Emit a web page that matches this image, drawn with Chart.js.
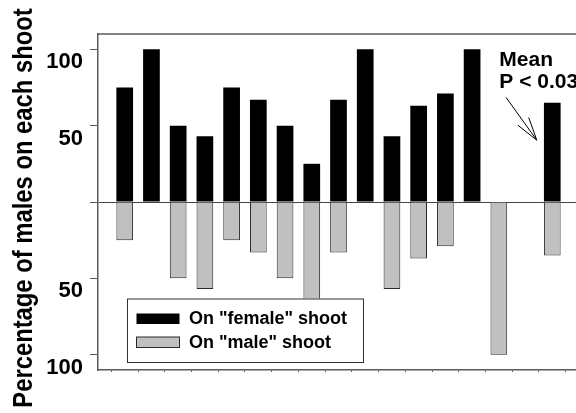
<!DOCTYPE html>
<html>
<head>
<meta charset="utf-8">
<script src="https://cdn.jsdelivr.net/npm/chart.js@4.4.1/dist/chart.umd.min.js"></script>
<style>
  html, body { margin: 0; padding: 0; background: #fff; overflow: hidden; }
  #wrap { width: 590px; height: 413px; }
</style>
</head>
<body>
<div id="wrap"><canvas id="shootChart" width="590" height="413"></canvas></div>
<script>
// shoots 1-15, a gap, then the mean; empty slots at both ends frame the axis
const categories = ['', '1', '2', '3', '4', '5', '6', '7', '8', '9', '10', '11', '12', '13', '14', '15', '', 'Mean', ''];
const femaleShoot = [null, 75, 100, 50, 43, 75, 67, 50, 25, 67, 100, 43, 63, 71, 100, null, null, 65, null];
const maleShoot = [null, 25, null, 50, 57, 25, 33, 50, 75, 33, null, 57, 37, 29, null, 100, null, 35, null];
const yTickValues = [-100, -50, 0, 50, 100];

const FONT = '"Liberation Sans", Arial, sans-serif';

// frame top, legend box, axis title and the "Mean" note
const extras = {
  id: 'extras',
  afterDatasetsDraw(chart) {
    const { ctx, chartArea, scales } = chart;
    const x = scales.x, y = scales.y;
    ctx.save();

    // top frame line
    ctx.strokeStyle = '#5a5a5a';
    ctx.lineWidth = 1.5;
    ctx.beginPath();
    ctx.moveTo(chartArea.left, chartArea.top);
    ctx.lineTo(chartArea.right, chartArea.top);
    ctx.stroke();

    // legend
    const lx = 127, ly = 298.5, lw = 236, lh = 63.5;
    ctx.fillStyle = '#fff';
    ctx.fillRect(lx, ly, lw, lh);
    ctx.strokeStyle = '#333';
    ctx.lineWidth = 1;
    ctx.strokeRect(lx + 0.5, ly + 0.5, lw, lh);
    ctx.font = 'bold 18px ' + FONT;
    ctx.textBaseline = 'middle';
    chart.data.datasets.forEach((ds, i) => {
      const sy = 313.5 + i * 23.5;
      ctx.fillStyle = ds.backgroundColor;
      ctx.fillRect(136.5, sy, 43, 10.5);
      if (ds.borderWidth) {
        ctx.strokeStyle = ds.borderColor;
        ctx.lineWidth = 1;
        ctx.strokeRect(136.5, sy, 43, 10.5);
      }
      ctx.fillStyle = '#000';
      ctx.fillText(ds.label, 189, sy + 6);
    });

    // "Mean P < 0.03" note with arrow
    ctx.fillStyle = '#000';
    ctx.font = 'bold 21px ' + FONT;
    ctx.textBaseline = 'alphabetic';
    ctx.textAlign = 'left';
    const tx = x.getPixelForValue(15) + 0.5;
    ctx.fillText('Mean', tx, y.getPixelForValue(89));
    ctx.fillText('P < 0.03', tx, y.getPixelForValue(74.5));

    const ax0 = x.getPixelForValue(15.27), ay0 = y.getPixelForValue(68.5);
    const ax1 = x.getPixelForValue(16.42), ay1 = y.getPixelForValue(40.5);
    const ang = Math.atan2(ay1 - ay0, ax1 - ax0);
    ctx.strokeStyle = '#000';
    ctx.lineWidth = 1;
    ctx.beginPath();
    ctx.moveTo(ax0, ay0);
    ctx.lineTo(ax1, ay1);
    [0.28, -0.28].forEach(d => {
      ctx.moveTo(ax1, ay1);
      ctx.lineTo(ax1 - 24 * Math.cos(ang + d), ay1 - 24 * Math.sin(ang + d));
    });
    ctx.stroke();

    // y axis title
    ctx.translate(31.5, 208);
    ctx.rotate(-Math.PI / 2);
    ctx.scale(0.85, 1);
    ctx.font = 'bold 28px ' + FONT;
    ctx.textAlign = 'center';
    ctx.fillText('Percentage of males on each shoot', 0, 0);
    ctx.restore();
  }
};

new Chart(document.getElementById('shootChart'), {
  type: 'bar',
  data: {
    labels: categories,
    datasets: [
      {
        label: 'On "female" shoot',
        data: femaleShoot,
        backgroundColor: '#000000',
        borderWidth: 0,
      },
      {
        label: 'On "male" shoot',
        data: maleShoot.map((v) => (v === null ? null : -v)),
        backgroundColor: '#c0c0c0',
        borderColor: '#2a2a2a',
        borderWidth: 1,
      },
    ],
  },
  options: {
    responsive: false,
    animation: false,
    layout: { padding: { top: 34, right: 11, bottom: 0, left: 0 } },
    datasets: {
      bar: { grouped: false, categoryPercentage: 1, barPercentage: 0.625 },
    },
    plugins: {
      legend: { display: false },
      tooltip: { enabled: false },
    },
    scales: {
      x: {
        type: 'category',
        offset: false,
        grid: { drawOnChartArea: false, drawTicks: true, tickLength: 2, color: '#5a5a5a' },
        border: { display: true, color: '#5a5a5a', width: 1.5 },
        ticks: { display: false },
        afterFit: (axis) => { axis.height = 43; },
      },
      y: {
        min: -110,
        max: 110,
        afterBuildTicks: (axis) => { axis.ticks = yTickValues.map((v) => ({ value: v })); },
        afterFit: (axis) => { axis.width = 98; },
        grid: {
          drawOnChartArea: true,
          drawTicks: true,
          tickLength: 8,
          color: (c) => (c.tick && c.tick.value === 0 ? '#444' : 'rgba(0,0,0,0)'),
          tickColor: '#5a5a5a',
          lineWidth: 1,
        },
        border: { display: true, color: '#5a5a5a', width: 1.5 },
        ticks: {
          padding: 7,
          labelOffset: 13,
          color: '#000',
          font: { family: FONT, size: 22, weight: 'bold' },
          callback: (v) => (v === 0 ? '' : Math.abs(v)),
        },
      },
    },
  },
  plugins: [extras],
});
</script>
</body>
</html>
